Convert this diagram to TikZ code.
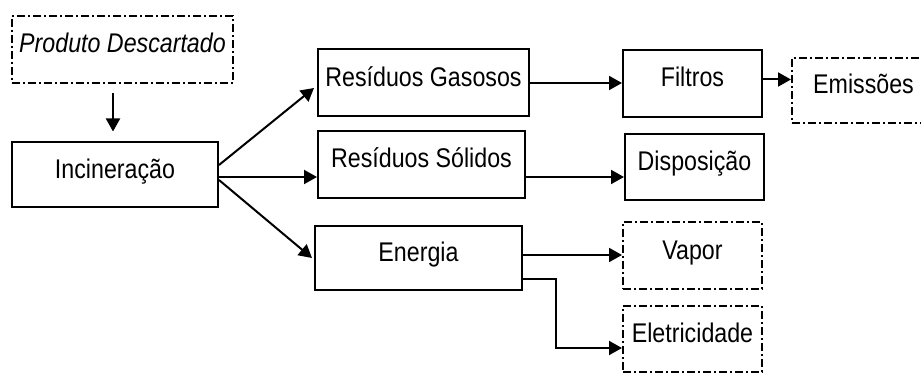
\documentclass[tikz,border=0pt]{standalone}
\usepackage{fontspec}
\setmainfont{Liberation Sans}[FakeStretch=0.86]
\usetikzlibrary{arrows.meta,calc}
\begin{document}
\begin{tikzpicture}[x=1pt,y=-1pt,
  box/.style={draw, line width=2pt, inner sep=0pt,
    text height=18pt, text depth=11pt,
    font=\fontsize{27}{30}\selectfont},
  dbox/.style={box, dash pattern=on 8pt off 3pt on 2pt off 3pt},
  arr/.style={line width=2pt, -{Triangle[length=13pt,width=14pt]}}]
\fill[white] (0,0) rectangle (921,374);
\useasboundingbox (0,0) rectangle (921,374);
\clip (0,0) rectangle (921,374);

% process boxes
\node[dbox, minimum width=221pt, minimum height=67pt, font=\fontsize{27}{30}\selectfont\itshape]
  (prod) at (122.5,49.5) {Produto Descartado};
\node[box, minimum width=206pt, minimum height=65pt] (inc) at (115,175) {Incineração};
\node[box, minimum width=211pt, minimum height=67pt] (gas) at (423.5,83) {Resíduos Gasosos};
\node[box, minimum width=207pt, minimum height=67pt] (sol) at (421.5,164.5) {Resíduos Sólidos};
\node[box, minimum width=207pt, minimum height=64pt] (ene) at (418.5,258) {Energia};
\node[box, minimum width=139pt, minimum height=67pt] (fil) at (692.5,83.5) {Filtros};
\node[box, minimum width=139pt, minimum height=66pt] (dis) at (694.5,167) {Disposição};
\node[dbox, minimum width=143pt, minimum height=65pt] (emi) at (863.5,90.5) {Emissões};
\node[dbox, minimum width=139pt, minimum height=67pt] (vap) at (692.5,255.5) {Vapor};
\node[dbox, minimum width=139pt, minimum height=66pt] (ele) at (692.5,339) {Eletricidade};

% connectors
\draw[arr, shorten <=9pt, shorten >=10pt] ([xshift=-9.5pt]prod.south) -- ([xshift=-2pt]inc.north);
\draw[arr] ([yshift=10pt]inc.east) -- ([xshift=-3pt,yshift=-5pt]gas.west);
\coordinate (i2) at ([yshift=-2pt]inc.east);
\draw[arr] (i2) -- (i2 -| sol.west);
\draw[arr] ([yshift=-5pt]inc.east) -- ([xshift=-2pt]ene.west);
\draw[arr] (gas.east) -- (gas.east -| fil.west);
\coordinate (s1) at ([yshift=-12.5pt]sol.east);
\draw[arr] (s1) -- (s1 -| dis.west);
\coordinate (f1) at ([yshift=4pt]fil.east);
\draw[arr] (f1) -- (f1 -| emi.west);
\coordinate (e1) at ([yshift=3pt]ene.east);
\draw[arr] (e1) -- (e1 -| vap.west);
\coordinate (e2) at ([yshift=-21pt]ene.east);
\coordinate (e3) at ([yshift=-9pt]ele.west);
\draw[arr] (e2) -- ++(33,0) |- (e3);
\end{tikzpicture}
\end{document}
